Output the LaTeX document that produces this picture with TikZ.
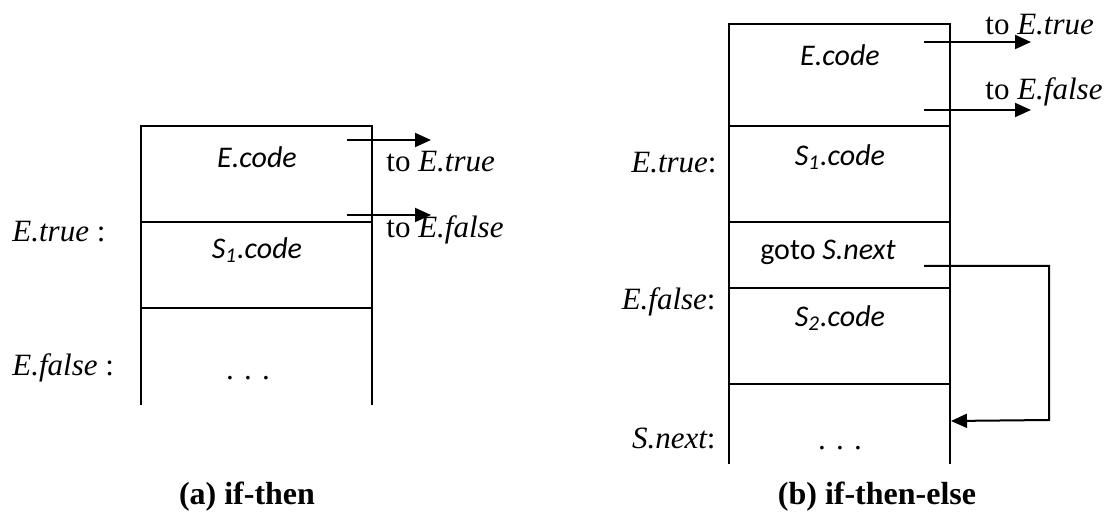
\documentclass[tikz,border=0pt]{standalone}
\usepackage{fontspec}
\setmainfont{Liberation Serif}
\newfontfamily\calfont{Carlito}
\usetikzlibrary{arrows.meta}
\newcommand{\mydots}{.\hspace{0.33em}.\hspace{0.33em}.}
\tikzset{
  wall/.style={line width=1pt, line cap=rect},
  flow/.style={line width=1pt, -{Triangle[length=8pt,width=7pt]}},
  codetxt/.style={font=\calfont\fontsize{15}{18}\selectfont, inner sep=0pt},
  lbl/.style={font=\fontsize{15.5}{18}\selectfont, inner sep=0pt},
  captxt/.style={font=\bfseries\fontsize{16}{19}\selectfont, inner sep=0pt}
}
\begin{document}
\begin{tikzpicture}[x=0.5pt,y=-0.5pt]
\useasboundingbox (0,0) rectangle (1108,523);
% ---------- (a) if-then ----------
\draw[wall] (141,404) -- (141,126) -- (372,126) -- (372,404);
\draw[wall] (141,222) -- (372,222);
\draw[wall] (141,308) -- (372,308);
\node[codetxt] (aE) at (257,157) {\itshape E.code};
\node[codetxt] (aS1) at (257,250) {\itshape S\textsubscript{1}.code};
\node[lbl, anchor=base] (adots) at (248,380) {\mydots};
\node[lbl, anchor=west] (aLt) at (12,232) {\itshape E.true\upshape\ :};
\node[lbl, anchor=west] (aLf) at (12,368) {\itshape E.false\upshape\ :};
\coordinate (a1s) at (347,140); \coordinate (a1e) at (431,140);
\coordinate (a2s) at (347,215); \coordinate (a2e) at (431,215);
\draw[flow] (a1s) -- (a1e);
\draw[flow] (a2s) -- (a2e);
\node[lbl, anchor=west] (aTt) at (386,162) {to \itshape E.true};
\node[lbl, anchor=west] (aTf) at (386,230) {to \itshape E.false};
\node[captxt] (capa) at (247,497) {(a) if-then};
% ---------- (b) if-then-else ----------
\draw[wall] (729,463) -- (729,24) -- (950,24) -- (950,463);
\draw[wall] (729,126) -- (950,126);
\draw[wall] (729,222) -- (950,222);
\draw[wall] (729,288) -- (950,288);
\draw[wall] (729,384) -- (950,384);
\node[codetxt] (bE) at (840,55) {\itshape E.code};
\node[codetxt] (bS1) at (840,157) {\itshape S\textsubscript{1}.code};
\node[codetxt] (bgoto) at (828,252) {goto \itshape S.next};
\node[codetxt] (bS2) at (840,318) {\itshape S\textsubscript{2}.code};
\node[lbl, anchor=base] (bdots) at (840,450) {\mydots};
\node[lbl, anchor=east] (bLt) at (717,163) {\itshape E.true\upshape :};
\node[lbl, anchor=east] (bLf) at (716,302) {\itshape E.false\upshape :};
\node[lbl, anchor=east] (bLn) at (716,438) {\itshape S.next\upshape :};
\coordinate (b1s) at (924,42); \coordinate (b1e) at (1031,42);
\coordinate (b2s) at (924,110); \coordinate (b2e) at (1031,110);
\draw[flow] (b1s) -- (b1e);
\draw[flow] (b2s) -- (b2e);
\node[lbl, anchor=west] (bTt) at (985,25) {to \itshape E.true};
\node[lbl, anchor=west] (bTf) at (985,92) {to \itshape E.false};
\coordinate (gs) at (924,266);
\coordinate (gc1) at (1049,266);
\coordinate (gc2) at (1049,420);
\coordinate (ge) at (951,421);
\draw[flow] (gs) -- (gc1) -- (gc2) -- (ge);
\node[captxt] (capb) at (877,497) {(b) if-then-else};
\end{tikzpicture}
\end{document}
